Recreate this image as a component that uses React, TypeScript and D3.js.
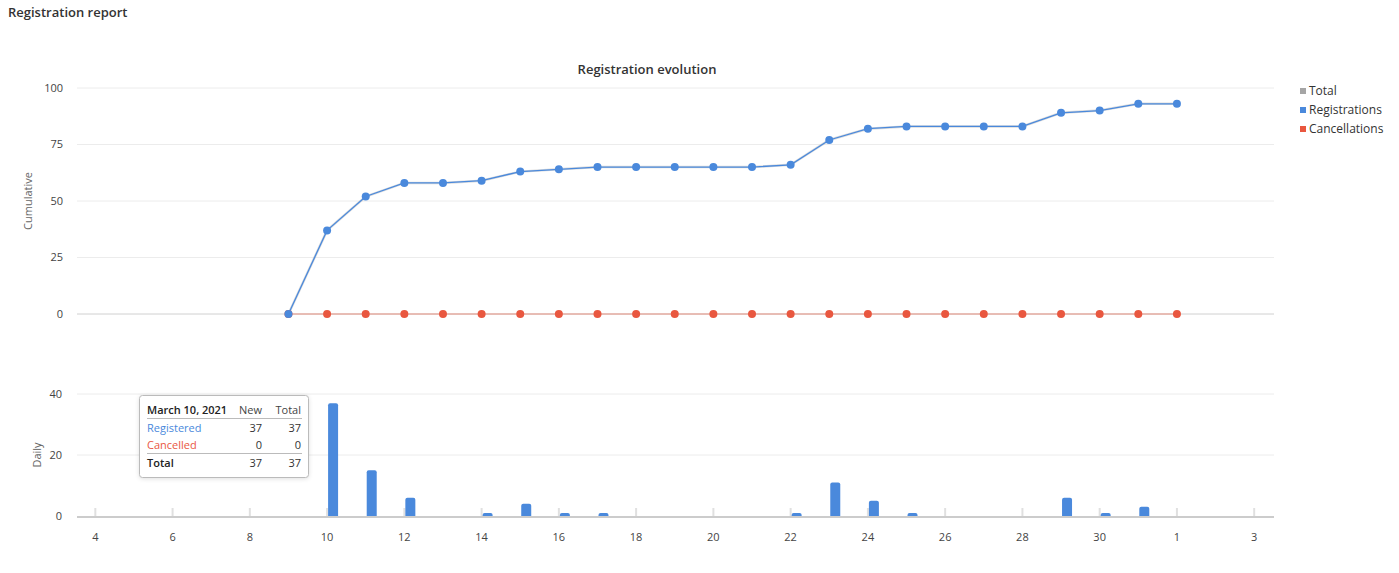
import React from "react";
import * as d3 from "d3";

const cumulativeDates = [
  "2021-03-09", "2021-03-10", "2021-03-11", "2021-03-12", "2021-03-13", "2021-03-14",
  "2021-03-15", "2021-03-16", "2021-03-17", "2021-03-18", "2021-03-19", "2021-03-20",
  "2021-03-21", "2021-03-22", "2021-03-23", "2021-03-24", "2021-03-25", "2021-03-26",
  "2021-03-27", "2021-03-28", "2021-03-29", "2021-03-30", "2021-03-31", "2021-04-01",
];
const registrationsCumulative = [0, 37, 52, 58, 58, 59, 63, 64, 65, 65, 65, 65, 65, 66, 77, 82, 83, 83, 83, 83, 89, 90, 93, 93];
const cancellationsCumulative = [0, 0, 0, 0, 0, 0, 0, 0, 0, 0, 0, 0, 0, 0, 0, 0, 0, 0, 0, 0, 0, 0, 0, 0];
const totalCumulative = [0, 37, 52, 58, 58, 59, 63, 64, 65, 65, 65, 65, 65, 66, 77, 82, 83, 83, 83, 83, 89, 90, 93, 93];
const dailyRegistrations = [0, 37, 15, 6, 0, 1, 4, 1, 1, 0, 0, 0, 0, 1, 11, 5, 1, 0, 0, 0, 6, 1, 3, 0];

const xTickDates = [
  "2021-03-04", "2021-03-06", "2021-03-08", "2021-03-10", "2021-03-12", "2021-03-14",
  "2021-03-16", "2021-03-18", "2021-03-20", "2021-03-22", "2021-03-24", "2021-03-26",
  "2021-03-28", "2021-03-30", "2021-04-01", "2021-04-03",
];
const topYTicks = [0, 25, 50, 75, 100];
const bottomYTicks = [0, 20, 40];

const legendItems = [
  { label: "Total", color: "#a5a5a5" },
  { label: "Registrations", color: "#4a89dc" },
  { label: "Cancellations", color: "#e9573f" },
];

const tooltipRows = [
  { label: "Registered", newV: "37", totalV: "37", color: "#4a89dc" },
  { label: "Cancelled", newV: "0", totalV: "0", color: "#e9573f" },
];

const BLUE = "#4a89dc";
const RED = "#e9573f";
const GRAY = "#a5a5a5";
const FONT = "'Open Sans', sans-serif";

const parse = (s: string) => new Date(s + "T00:00:00Z");

function topRoundedBar(x0: number, y0: number, w: number, yBase: number, r: number) {
  const h = yBase - y0;
  const rr = Math.min(r, h, w / 2);
  return `M${x0},${yBase}V${y0 + rr}Q${x0},${y0} ${x0 + rr},${y0}H${x0 + w - rr}Q${x0 + w},${y0} ${x0 + w},${y0 + rr}V${yBase}Z`;
}

export default function App() {
  const x = d3
    .scaleUtc()
    .domain([new Date(Date.UTC(2021, 2, 3, 12)), new Date(Date.UTC(2021, 3, 3, 12))])
    .range([76, 1273.5]);
  const yTop = d3.scaleLinear().domain([0, 100]).range([314, 88]);
  const yBot = d3.scaleLinear().domain([0, 40]).range([516, 394]);
  const plotL = 77;
  const plotR = 1274;

  const dates = cumulativeDates.map(parse);
  const line = (vals: number[]) =>
    d3
      .line<number>()
      .x((_, i) => x(dates[i]))
      .y((v) => yTop(v))(vals) || "";

  const barW = 10;

  return (
    <svg
      width={1399}
      height={573}
      style={{ position: "absolute", left: 0, top: 0, fontFamily: FONT }}
    >
      <rect x={0} y={0} width={1399} height={573} fill="#fff" />
      <text x={8} y={17} fontSize={13} fontWeight={600} fill="#333">
        Registration report
      </text>
      <text x={647} y={74} fontSize={13} fontWeight={600} fill="#333" textAnchor="middle">
        Registration evolution
      </text>

      {/* top chart grid */}
      {topYTicks.map((t) => (
        <g key={"tg" + t}>
          <line
            x1={plotL}
            x2={plotR}
            y1={yTop(t)}
            y2={yTop(t)}
            stroke={t === 0 ? "#d0d0d0" : "#ececec"}
            strokeWidth={1}
          />
          <text x={63} y={yTop(t)} dy="0.35em" fontSize={11} fill="#444" textAnchor="end">
            {t}
          </text>
        </g>
      ))}
      <text
        transform={`translate(32,${(yTop(0) + yTop(100)) / 2}) rotate(-90)`}
        fontSize={11}
        fill="#666"
        textAnchor="middle"
      >
        Cumulative
      </text>

      {/* lines */}
      <path d={line(cancellationsCumulative)} fill="none" stroke={RED} strokeOpacity={0.4} strokeWidth={1.5} />
      <path d={line(totalCumulative)} fill="none" stroke={GRAY} strokeOpacity={0.4} strokeWidth={2.5} />
      <path d={line(registrationsCumulative)} fill="none" stroke={BLUE} strokeWidth={1.3} />
      {cancellationsCumulative.map((v, i) => (
        <circle key={"rc" + i} cx={x(dates[i])} cy={yTop(v)} r={4} fill={RED} />
      ))}
      {registrationsCumulative.map((v, i) => (
        <circle key={"bc" + i} cx={x(dates[i])} cy={yTop(v)} r={4} fill={BLUE} />
      ))}

      {/* legend */}
      {legendItems.map((it, i) => (
        <g key={it.label} transform={`translate(1300,${91 + i * 19})`}>
          <rect x={0} y={-3} width={6} height={6} fill={it.color} />
          <text x={9} y={0} dy="0.35em" fontSize={12} fill="#333">
            {it.label}
          </text>
        </g>
      ))}

      {/* bottom chart */}
      {bottomYTicks.map((t) => (
        <g key={"bg" + t}>
          {t !== 0 && (
            <line x1={plotL} x2={plotR} y1={yBot(t)} y2={yBot(t)} stroke="#ececec" strokeWidth={1} />
          )}
          <text x={62} y={yBot(t)} dy="0.35em" fontSize={11} fill="#444" textAnchor="end">
            {t}
          </text>
        </g>
      ))}
      <text
        transform={`translate(41,${(yBot(0) + yBot(40)) / 2}) rotate(-90)`}
        fontSize={11}
        fill="#666"
        textAnchor="middle"
      >
        Daily
      </text>
      {xTickDates.map((s) => {
        const d = parse(s);
        return (
          <g key={"xt" + s}>
            <line x1={x(d)} x2={x(d)} y1={508} y2={517} stroke="#e0e0e0" strokeWidth={2} />
            <text x={x(d)} y={541} fontSize={11} fill="#444" textAnchor="middle">
              {d.getUTCDate()}
            </text>
          </g>
        );
      })}
      {dailyRegistrations.map((v, i) =>
        v > 0 ? (
          <path
            key={"bar" + i}
            d={topRoundedBar(x(dates[i]) + 1, yBot(v), barW, 517, 2)}
            fill={BLUE}
          />
        ) : null
      )}
      <line x1={plotL} x2={plotR} y1={517} y2={517} stroke="#cccccc" strokeWidth={2} />

      {/* tooltip */}
      <g>
        <rect
          x={139.5}
          y={395.5}
          width={169}
          height={82}
          rx={3}
          fill="#fff"
          stroke="#bbb"
          strokeWidth={1}
          style={{ filter: "drop-shadow(0px 1px 2px rgba(0,0,0,0.12))" }}
        />
        <text x={147} y={414} fontSize={11} fontWeight={600} fill="#222">
          March 10, 2021
        </text>
        <text x={262} y={414} fontSize={11} fill="#444" textAnchor="end">
          New
        </text>
        <text x={301} y={414} fontSize={11} fill="#444" textAnchor="end">
          Total
        </text>
        <line x1={147} x2={302} y1={418.5} y2={418.5} stroke="#bbb" />
        {tooltipRows.map((r, i) => (
          <g key={r.label}>
            <text x={147} y={432 + i * 17} fontSize={11} fill={r.color}>
              {r.label}
            </text>
            <text x={262} y={432 + i * 17} fontSize={11} fill="#333" textAnchor="end">
              {r.newV}
            </text>
            <text x={301} y={432 + i * 17} fontSize={11} fill="#333" textAnchor="end">
              {r.totalV}
            </text>
          </g>
        ))}
        <line x1={147} x2={302} y1={453.5} y2={453.5} stroke="#bbb" />
        <text x={147} y={467} fontSize={11} fontWeight={600} fill="#222">
          Total
        </text>
        <text x={262} y={467} fontSize={11} fill="#333" textAnchor="end">
          37
        </text>
        <text x={301} y={467} fontSize={11} fill="#333" textAnchor="end">
          37
        </text>
      </g>
    </svg>
  );
}
